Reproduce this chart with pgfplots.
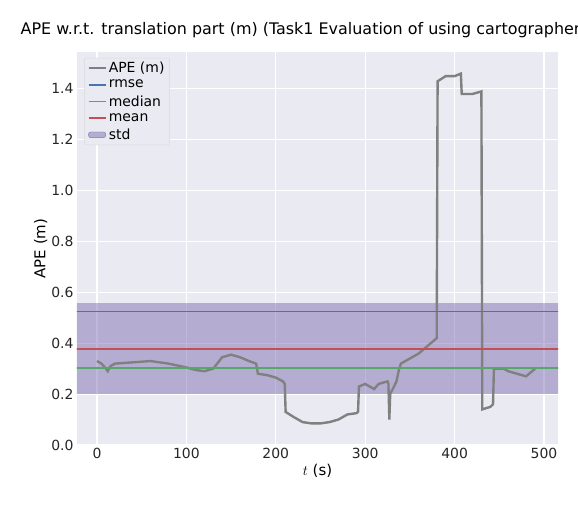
\documentclass[border=0pt]{standalone}
\usepackage{pgfplots}
\pgfplotsset{compat=1.18}
\usepackage{fontspec}
\setmainfont{DejaVu Sans}
\definecolor{bg}{HTML}{EAEAF2}
\definecolor{cb}{HTML}{4C72B0}
\definecolor{cg}{HTML}{55A868}
\definecolor{cr}{HTML}{C44E52}
\definecolor{cp}{HTML}{8172B2}
\begin{document}
\begin{tikzpicture}
\clip (-77bp,-60bp) rectangle (501bp,445bp);
\begin{axis}[
  scale only axis, width=481bp, height=393bp,
  xmin=-22.4, xmax=515.7, ymin=0, ymax=1.545,
  axis background/.style={fill=bg}, axis line style={draw=none},
  grid=major, grid style={white, line width=1.1pt},
  tick style={draw=none},
  xtick={0,100,...,500}, ytick={0,0.2,...,1.4},
  yticklabel style={/pgf/number format/.cd,fixed,fixed zerofill,precision=1},
  /pgf/number format/assume math mode=true,
  ticklabel style={font=\fontsize{14}{16}\selectfont, text=black!85},
  label style={font=\fontsize{15}{17}\selectfont},
  xlabel={$t$ (s)}, ylabel={APE (m)},
  xlabel style={yshift=2bp}, ylabel style={yshift=-3bp},
  title={APE w.r.t. translation part (m) (Task1 Evaluation of using cartographer)},
  title style={font=\fontsize{16}{18}\selectfont, anchor=south west, at={(-53bp,398bp)}},
  legend pos=north west,
  legend style={font=\fontsize{14}{16}\selectfont, fill=bg, draw=black!15, rounded corners=2pt, row sep=2pt, at={(0.015,0.985)}},
  legend cell align=left,
]
\addplot[draw=none, fill=cp, fill opacity=0.5, forget plot] coordinates {(-30,0.2)(530,0.2)(530,0.557)(-30,0.557)} -- cycle;
\addplot[gray, line width=2.4pt] coordinates {
(0,0.33)(5,0.32)(10,0.30)(12,0.29)(15,0.31)(20,0.32)(40,0.325)(60,0.33)(80,0.32)(100,0.305)(110,0.295)(120,0.29)(130,0.30)(140,0.345)(150,0.355)(160,0.345)(170,0.33)(178,0.32)(180,0.28)(190,0.275)(200,0.265)(208,0.25)(210,0.24)(211,0.13)(220,0.11)(230,0.09)(240,0.085)(250,0.085)(260,0.09)(270,0.10)(280,0.12)(290,0.125)(292,0.13)(293,0.23)(300,0.24)(305,0.23)(310,0.22)(315,0.24)(325,0.25)(326,0.24)(327,0.10)(328,0.20)(335,0.25)(338,0.30)(340,0.32)(350,0.34)(360,0.36)(370,0.39)(380,0.42)(381,1.43)(390,1.45)(400,1.45)(407,1.46)(408,1.38)(420,1.38)(430,1.39)(431,0.14)(440,0.15)(443,0.16)(444,0.30)(455,0.30)(460,0.29)(470,0.28)(480,0.27)(490,0.30)};
\addlegendentry{APE (m)}
\addplot[cb, line width=1.6pt] coordinates {(-30,0.525)(530,0.525)};
\addlegendentry{rmse}
\addplot[cg, line width=1.6pt] coordinates {(-30,0.302)(530,0.302)};
\addlegendentry{median}
\addplot[cr, line width=1.6pt] coordinates {(-30,0.378)(530,0.378)};
\addlegendentry{mean}
\addlegendimage{area legend, draw=cp, fill=cp, fill opacity=0.5}
\addlegendentry{std}
\end{axis}
\end{tikzpicture}
\end{document}
